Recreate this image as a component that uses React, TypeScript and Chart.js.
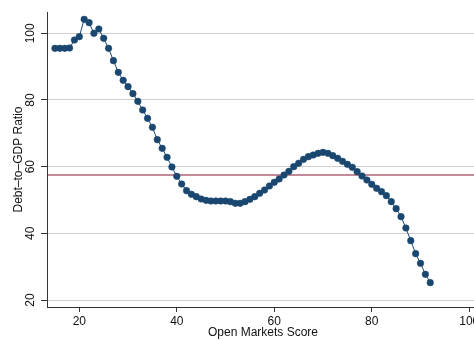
import React, { useEffect, useRef } from "react";
import { Chart, registerables } from "chart.js";

Chart.register(...registerables);

const openMarketsScore = [
  15, 16, 17, 18, 19, 20, 21, 22, 23, 24, 25, 26, 27, 28, 29, 30, 31, 32, 33, 34,
  35, 36, 37, 38, 39, 40, 41, 42, 43, 44, 45, 46, 47, 48, 49, 50, 51, 52, 53, 54,
  55, 56, 57, 58, 59, 60, 61, 62, 63, 64, 65, 66, 67, 68, 69, 70, 71, 72, 73, 74,
  75, 76, 77, 78, 79, 80, 81, 82, 83, 84, 85, 86, 87, 88, 89, 90, 91, 92,
];

const debtToGdp = [
  95.5, 95.5, 95.5, 95.6, 98.0, 99.0, 104.2, 103.2, 100.0, 101.3, 98.5, 95.5, 91.8, 88.3, 85.9, 84.0, 81.9, 79.6, 77.0, 74.5,
  71.8, 68.1, 65.5, 62.8, 59.9, 57.1, 54.8, 52.8, 51.7, 51.0, 50.3, 49.9, 49.7, 49.7, 49.7, 49.7, 49.5, 49.0, 49.0, 49.5,
  50.2, 51.0, 52.0, 53.0, 54.2, 55.3, 56.3, 57.5, 58.6, 60.0, 61.0, 62.2, 63.0, 63.5, 64.0, 64.3, 64.0, 63.3, 62.5, 61.6,
  60.7, 59.8, 58.5, 57.2, 56.0, 54.7, 53.5, 52.5, 51.3, 49.5, 47.4, 45.0, 41.6, 37.8, 33.9, 31.0, 27.7, 25.2,
];

const referenceLevel = 57.5;
const xTicks = [20, 40, 60, 80, 100];
const yTicks = [20, 40, 60, 80, 100];
const xRange = [13.37, 102];
const yRange = [17.9, 106.4];

const FONT = "'Liberation Sans', Arial, Helvetica, sans-serif";

export default function App() {
  const canvasRef = useRef<HTMLCanvasElement | null>(null);

  useEffect(() => {
    const canvas = canvasRef.current;
    if (!canvas) return;
    const points = openMarketsScore.map((x, i) => ({ x, y: debtToGdp[i] }));
    const refLine = [
      { x: xRange[0], y: referenceLevel },
      { x: xRange[1], y: referenceLevel },
    ];
    const chart = new Chart(canvas, {
      type: "scatter",
      data: {
        datasets: [
          {
            data: points,
            showLine: true,
            borderColor: "#1a476f",
            backgroundColor: "#1a476f",
            borderWidth: 1,
            pointRadius: 3.3,
            pointBorderWidth: 0.5,
            pointBorderColor: "#1a476f",
            pointBackgroundColor: "#1a476f",
            order: 1,
          },
          {
            data: refLine,
            showLine: true,
            borderColor: "#8a1430",
            borderWidth: 1.1,
            pointRadius: 0,
            order: 2,
          },
        ],
      },
      options: {
        responsive: false,
        animation: false,
        layout: { padding: { left: 0, top: 12, right: 11, bottom: 0 } },
        plugins: { legend: { display: false }, tooltip: { enabled: false } },
        scales: {
          x: {
            type: "linear",
            min: xRange[0],
            max: xRange[1],
            afterBuildTicks: (s: any) => {
              s.ticks = xTicks.map((v) => ({ value: v }));
            },
            afterFit: (s: any) => {
              s.height = 34;
            },
            grid: {
              drawOnChartArea: false,
              drawTicks: true,
              tickLength: 5,
              tickColor: "#333",
              color: "#333",
            },
            border: { display: true, color: "#333", width: 1 },
            ticks: {
              padding: 2,
              color: "#111",
              font: { family: FONT, size: 12 },
              maxRotation: 0,
              minRotation: 0,
            },
            title: {
              display: true,
              text: "Open Markets Score",
              color: "#111",
              font: { family: FONT, size: 12 },
              padding: { top: 0, bottom: 1 },
            },
          },
          y: {
            type: "linear",
            min: yRange[0],
            max: yRange[1],
            afterBuildTicks: (s: any) => {
              s.ticks = yTicks.map((v) => ({ value: v }));
            },
            afterFit: (s: any) => {
              s.width = 47;
            },
            grid: {
              drawOnChartArea: true,
              drawTicks: true,
              tickLength: 6,
              color: "#cfcfcf",
              tickColor: "#333",
              lineWidth: 1,
            },
            border: { display: true, color: "#333", width: 1 },
            ticks: {
              padding: 0,
              color: "#111",
              crossAlign: "center",
              minRotation: 90,
              maxRotation: 90,
              font: { family: FONT, size: 12 },
            },
            title: {
              display: true,
              text: "Debt–to–GDP Ratio",
              color: "#111",
              font: { family: FONT, size: 12 },
              padding: { top: 11, bottom: 0 },
            },
          },
        },
      },
    } as any);
    return () => chart.destroy();
  }, []);

  return (
    <div
      style={{
        position: "fixed",
        left: 0,
        top: 0,
        width: 474,
        height: 341,
        overflow: "hidden",
        background: "#fff",
      }}
    >
      <canvas ref={canvasRef} width={490} height={341} style={{ width: 490, height: 341, display: "block" }} />
    </div>
  );
}
